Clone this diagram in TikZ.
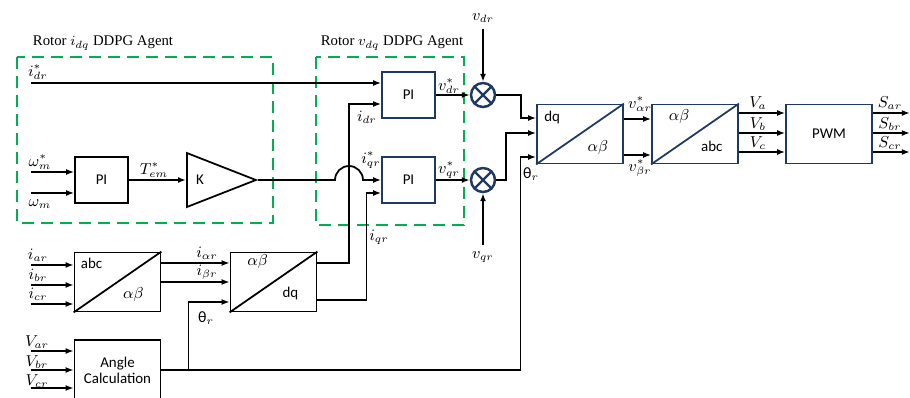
\documentclass[tikz,border=0pt]{standalone}
\usepackage{fontspec}
\setmainfont{Liberation Serif}
\setsansfont{Carlito}
\usepackage{amsmath}
\usetikzlibrary{arrows.meta,shapes.geometric,positioning,calc}
\definecolor{verdeag}{RGB}{0,176,80}
\definecolor{marino}{RGB}{31,56,100}
\tikzset{
  linea/.style={line width=1pt},
  flecha/.style={linea,-{Latex[length=1.6mm,width=1.2mm]}},
  sans/.style={font=\sffamily\fontsize{8.5}{10}\selectfont},
  bloque/.style={draw,line width=1pt,minimum width=10.6mm,minimum height=9.2mm,sans},
  conv/.style={draw,line width=1pt,minimum width=17.2mm,minimum height=11.8mm},
  agente/.style={draw=verdeag,line width=1.2pt,dash pattern=on 2.4mm off 1.4mm},
  sumador/.style={circle,draw=marino,line width=1.4pt,minimum size=4.8mm,inner sep=0pt},
  titulo/.style={font=\fontsize{8.4}{10}\selectfont},
}

\begin{document}
\begin{tikzpicture}[x=0.2mm,y=-0.2mm,font=\fontsize{9}{11}\selectfont]
  \useasboundingbox (0,0) rectangle (910,397);

  % agent frames
  \draw[agente] (17,57) rectangle (273,223);
  \draw[agente] (316,57) rectangle (464,225);
  \node[titulo] (tit1) at (103,43) {Rotor $i_{dq}$ DDPG Agent};
  \node[titulo] (tit2) at (392,43) {Rotor $v_{dq}$ DDPG Agent};

  % blocks
  \node[bloque] (piw) at (101.5,180) {PI};
  \node[isosceles triangle,isosceles triangle stretches,draw,line width=1pt,
        minimum width=10.8mm,minimum height=13.8mm,inner sep=0pt,anchor=west] (gain) at (186,180) {};
  \node[sans] (kval) at (200,180) {K};
  \node[bloque,draw=marino] (pid) at (408.5,95) {PI};
  \node[bloque,draw=marino] (piq) at (408.5,180) {PI};
  \node[sumador] (sumd) at (483,95) {};
  \node[sumador] (sumq) at (483,180) {};
  \draw[marino,line width=1.4pt] (sumd.north west) -- (sumd.south east) (sumd.north east) -- (sumd.south west);
  \draw[marino,line width=1.4pt] (sumq.north west) -- (sumq.south east) (sumq.north east) -- (sumq.south west);
  \node[conv,draw=marino] (dqab) at (580,134) {};
  \node[conv,draw=marino] (ababc) at (695,134) {};
  \node[conv,draw=marino,sans] (pwm) at (829,134) {PWM};
  \node[conv] (abcab) at (117.5,282) {};
  \node[conv] (abdq) at (273.5,282) {};
  \node[conv,minimum height=12mm,align=center,sans] (ang) at (117.5,370) {Angle\\[-1pt]Calculation};

  % transformation boxes
  \draw[linea,marino] (dqab.south west) -- (dqab.north east);
  \draw[linea,marino] (ababc.south west) -- (ababc.north east);
  \draw[linea] (abcab.south west) -- (abcab.north east);
  \draw[linea] (abdq.south west) -- (abdq.north east);
  \node[sans] (dqab-a) at ($(dqab.north west)+(16,14)$) {dq};
  \node (dqab-b) at ($(dqab.south east)+(-26,-17)$) {$\alpha\beta$};
  \node (ababc-a) at ($(ababc.north west)+(28,13)$) {$\alpha\beta$};
  \node[sans] (ababc-b) at ($(ababc.south east)+(-27,-18)$) {abc};
  \node[sans] (abcab-a) at ($(abcab.north west)+(18,12)$) {abc};
  \node (abcab-b) at ($(abcab.south east)+(-28,-18)$) {$\alpha\beta$};
  \node (abdq-a) at ($(abdq.north west)+(28,10)$) {$\alpha\beta$};
  \node[sans] (abdq-b) at ($(abdq.south east)+(-27,-19)$) {dq};

  % speed loop
  \draw[flecha] ($(piw.west)+(-43,-8)$) -- ++(43,0);
  \draw[flecha] ($(piw.west)+(-43,13)$) -- ++(43,0);
  \node (lwref) at (40,162) {$\omega_m^*$};
  \node (lwm) at (40,204) {$\omega_m$};
  \draw[flecha] (piw) -- (gain.west);
  \node (ltem) at (154,170) {$T_{em}^*$};
  \coordinate (hop) at (335,180);
  \draw[flecha] (gain.apex) -- (hop) arc[start angle=180,end angle=360,radius=14] -- (piq.west);
  \node (liqs) at (371,160) {$i_{qr}^*$};

  % current references and feedback
  \draw[flecha] ($(pid.west)+(-350,-12)$) -- ++(350,0);
  \node (lids) at (38,72) {$i_{dr}^*$};
  \draw[flecha] ($(abdq.east)+(0,-19)$) -- ++(31.5,0) |- ($(pid.west)+(0,9)$);
  \node (lidr) at (367,117) {$i_{dr}$};
  \draw[flecha] ($(abdq.east)+(0,18)$) -- ++(49,0) |- ($(piq.west)+(0,13)$);
  \node (liqr) at (379,237) {$i_{qr}$};

  % voltage references
  \draw[flecha] (pid) -- (sumd);
  \node (lvds) at (449,86) {$v_{dr}^*$};
  \draw[flecha] (piq) -- (sumq);
  \node (lvqs) at (449,170) {$v_{qr}^*$};
  \node (vdr) at (483,18) {$v_{dr}$};
  \draw[flecha] (vdr) -- (sumd);
  \node (vqr) at (483,257) {$v_{qr}$};
  \draw[flecha] (vqr) -- (sumq);
  \draw[flecha] (sumd.east) -- ++(25,0) |- ($(dqab.west)+(0,-16)$);
  \draw[flecha] (sumq.east) -- ++(10,0) |- ($(dqab.west)+(0,-1)$);

  % rotor angle
  \draw[flecha] (ang.east) -- ++(359,0) |- ($(dqab.west)+(0,23)$);
  \node (lth1) at (531,174) {\sffamily θ$_r$};
  \draw[flecha] ($(ang.east)+(27,0)$) |- ($(abdq.west)+(0,20)$);
  \node (lth2) at (206,318) {\sffamily θ$_r$};

  % dq -> ab -> abc -> PWM
  \draw[flecha] ($(dqab.east)+(0,-15)$) -- ($(ababc.west)+(0,-15)$);
  \draw[flecha] ($(dqab.east)+(0,21)$) -- ($(ababc.west)+(0,21)$);
  \node (lva) at (640,104) {$v_{\alpha r}^*$};
  \node (lvb) at (640,168) {$v_{\beta r}^*$};
  \draw[flecha] ($(ababc.east)+(0,-21)$) -- ($(pwm.west)+(0,-21)$);
  \draw[flecha] ($(ababc.east)+(0,-1)$) -- ($(pwm.west)+(0,-1)$);
  \draw[flecha] ($(ababc.east)+(0,18)$) -- ($(pwm.west)+(0,18)$);
  \node (lVa) at (758,103) {$V_a$};
  \node (lVb) at (758,124) {$V_b$};
  \node (lVc) at (758,143) {$V_c$};
  \draw[flecha] ($(pwm.east)+(0,-21)$) -- ++(37,0);
  \draw[flecha] ($(pwm.east)+(0,-1)$) -- ++(37,0);
  \draw[flecha] ($(pwm.east)+(0,18)$) -- ++(37,0);
  \node (lSa) at (890,103) {$S_{ar}$};
  \node (lSb) at (890,124) {$S_{br}$};
  \node (lSc) at (890,143) {$S_{cr}$};

  % measured currents
  \draw[flecha] ($(abcab.west)+(-43,-17)$) -- ++(43,0);
  \draw[flecha] ($(abcab.west)+(-43,3)$) -- ++(43,0);
  \draw[flecha] ($(abcab.west)+(-43,22)$) -- ++(43,0);
  \node (lia) at (38,255) {$i_{ar}$};
  \node (lib) at (38,275) {$i_{br}$};
  \node (lic) at (38,294) {$i_{cr}$};
  \draw[flecha] ($(abcab.east)+(0,-19)$) -- ($(abdq.west)+(0,-19)$);
  \draw[flecha] (abcab) -- (abdq);
  \node (lial) at (207,253) {$i_{\alpha r}$};
  \node (libe) at (207,272) {$i_{\beta r}$};

  % grid voltages
  \draw[flecha] ($(ang.west)+(-43,-19)$) -- ++(43,0);
  \draw[flecha] ($(ang.west)+(-43,0)$) -- ++(43,0);
  \draw[flecha] ($(ang.west)+(-43,18)$) -- ++(43,0);
  \node (lVar) at (37,342) {$V_{ar}$};
  \node (lVbr) at (37,362) {$V_{br}$};
  \node (lVcr) at (37,381) {$V_{cr}$};
\end{tikzpicture}
\end{document}
